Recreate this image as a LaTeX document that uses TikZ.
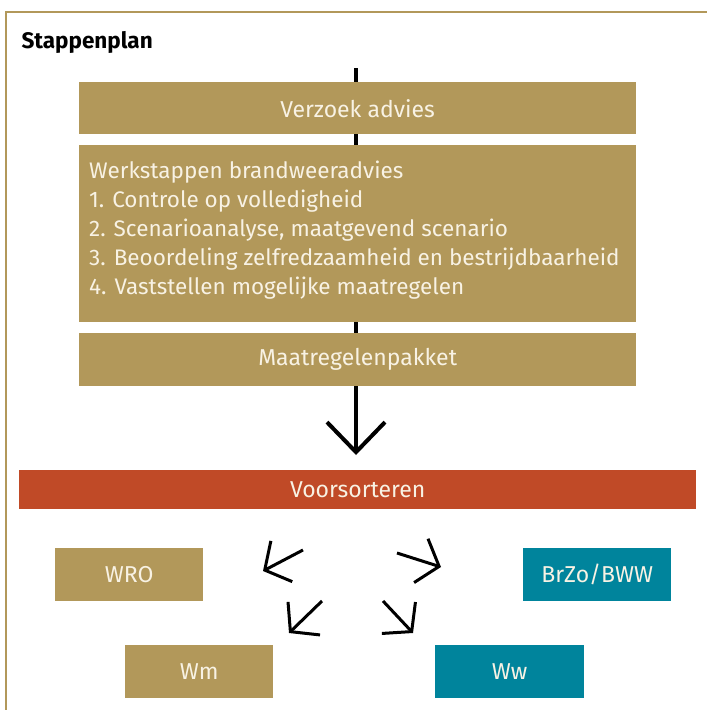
\documentclass[tikz,border=0pt]{standalone}
\usepackage{fontspec}
\setmainfont{Fira Sans}
\usetikzlibrary{positioning, arrows.meta, backgrounds}

\definecolor{goud}{RGB}{178,152,90}
\definecolor{rood}{RGB}{192,74,39}
\definecolor{petrol}{RGB}{0,132,156}
\definecolor{wit}{RGB}{248,242,228}

\tikzset{
  blok/.style={fill=goud, text=wit, font=\fontsize{23}{29}\selectfont,
    anchor=north west, inner sep=0pt},
  pijl/.style={line width=3pt, -{Straight Barb[length=19pt,width=46pt]}},
}

\begin{document}
\begin{tikzpicture}[x=1pt, y=-1pt]
\useasboundingbox (0,0) rectangle (707,710);
\node[anchor=base west, font=\fontsize{22.5}{24}\selectfont\bfseries] (titel) at (18,48) {Stappenplan};

\node[blok, minimum width=557pt, minimum height=52pt] (verzoek) at (79,82) {Verzoek advies};
\node[blok, minimum width=557pt, minimum height=177pt] (werk) at (79,145) {};
\node[anchor=north west, text=wit, font=\fontsize{22.5}{29}\selectfont, align=left, inner sep=0pt]
    (stappen) at (89,161) {Werkstappen brandweeradvies\\
    1. Controle op volledigheid\\
    2. Scenarioanalyse, maatgevend scenario\\
    3. Beoordeling zelfredzaamheid en bestrijdbaarheid\\
    4. Vaststellen mogelijke maatregelen};
\node[blok, minimum width=557pt, minimum height=53pt] (maat) at (79,333) {Maatregelenpakket};

\node[blok, fill=rood, minimum width=677pt, minimum height=39pt] (voor) at (19,470) {Voorsorteren};

\node[blok, minimum width=148pt, minimum height=53pt] (wro) at (55,548) {WRO};
\node[blok, fill=petrol, minimum width=148pt, minimum height=53pt] (brzo) at (523,548) {BrZo/BWW};
\node[blok, minimum width=148pt, minimum height=53pt] (wm) at (125,645) {Wm};
\node[blok, fill=petrol, minimum width=149pt, minimum height=53pt] (ww) at (435,645) {Ww};

% kader en hoofdlijn
\coordinate (start) at (356,68);
\coordinate (a1) at (303,550);
\coordinate (b1) at (263,571);
\coordinate (a2) at (397,553);
\coordinate (b2) at (441,567);
\coordinate (a3) at (322,601);
\coordinate (b3) at (289,633);
\coordinate (a4) at (383,601);
\coordinate (b4) at (413,633);
\begin{scope}[on background layer]
\draw[goud, line width=2pt] (707,12) -- (6,12) -- (6,710);
\draw[line width=4pt] (start) -- (maat.south -| start);
\end{scope}
\draw[line width=4pt, -{Straight Barb[length=30pt,width=58pt]}, shorten >=15pt]
    (maat.south -| start) -- (voor.north -| start);

% pijlen naar de wetten
\draw[pijl] (a1) -- (b1);
\draw[pijl] (a2) -- (b2);
\draw[pijl] (a3) -- (b3);
\draw[pijl] (a4) -- (b4);
\end{tikzpicture}
\end{document}
